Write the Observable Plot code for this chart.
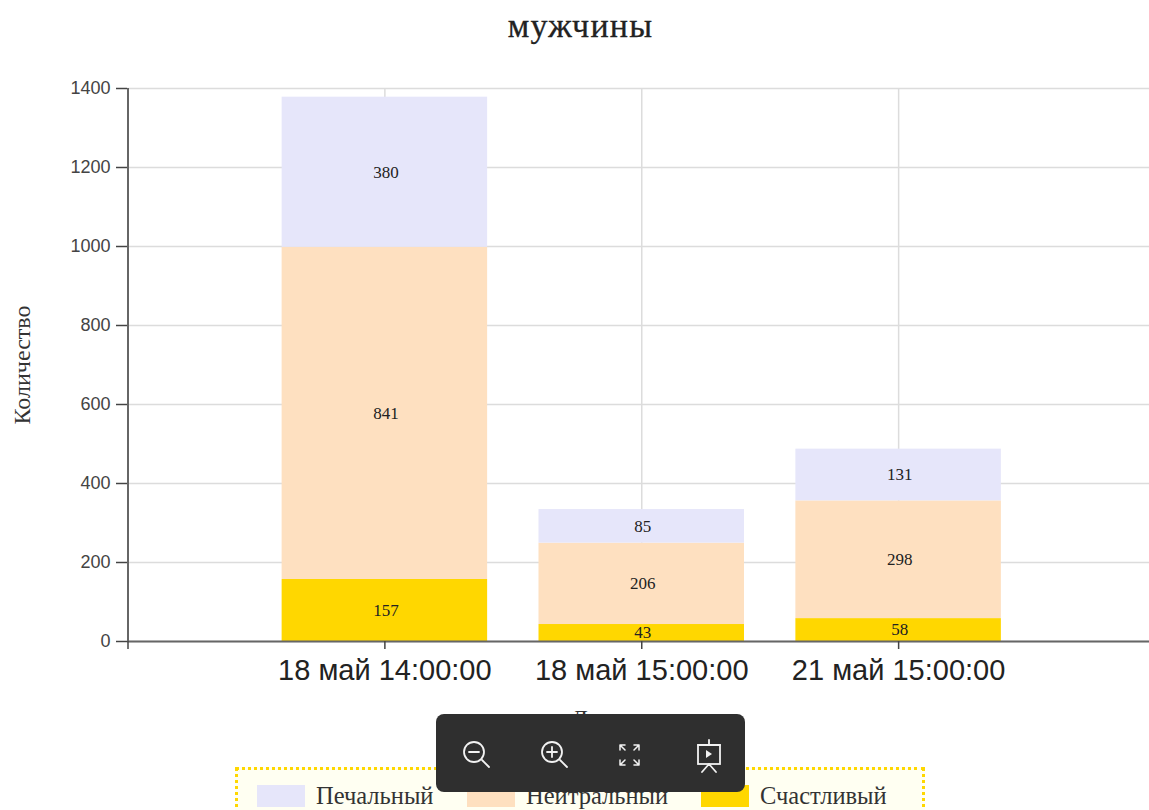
<!DOCTYPE html>
<html lang="ru">
<head>
<meta charset="utf-8">
<script src="https://cdn.jsdelivr.net/npm/d3@7"></script>
<script src="https://cdn.jsdelivr.net/npm/@observablehq/plot@0.6"></script>
<style>
html,body{margin:0;padding:0;background:#fff;}
#page{position:relative;width:1149px;height:810px;overflow:hidden;background:#fff;}
#title{position:absolute;left:0;width:1161px;top:7px;text-align:center;font:34px "Liberation Serif",serif;letter-spacing:1.2px;color:#222;-webkit-text-stroke:0.3px #222;}
#chart{position:absolute;left:0;top:58px;}
#chart svg{display:block;}
#legend{position:absolute;left:235px;top:767px;width:684px;height:60px;border:3px dotted #ffd700;background:#fffff2;font:24.5px "Liberation Serif",serif;color:#333;}
#legend .sw{position:absolute;top:15px;width:48px;height:22px;}
#legend .lb{position:absolute;top:13px;line-height:26px;white-space:nowrap;}
#tools{position:absolute;left:436px;top:714px;width:309px;height:78px;border-radius:8px;background:#2f2f2f;}
#tools svg{position:absolute;left:0;top:0;}
</style>
</head>
<body>
<div id="page">
  <div id="title">мужчины</div>
  <div id="chart"></div>
  <div id="legend"></div>
  <div id="tools">
    <svg width="309" height="78" fill="none" stroke="#f2f2f2" stroke-width="1.8" stroke-linecap="round">
      <circle cx="38" cy="38" r="10"/><path d="M46 46l7 7M33 38h10"/>
      <circle cx="116" cy="38" r="10"/><path d="M124 46l7 7M111 38h10M116 33v10"/>
      <path stroke-width="1.5" d="M184 31h5M184 31v0M184 31l5 5M184 31v5M203 31h-5M203 31v5M203 31l-5 5M184 51h5M184 51v-5M184 51l5-5M203 51h-5M203 51v-5M203 51l-5-5"/>
      <rect x="262" y="31" width="22" height="19"/><path d="M273 26v5M273 50l-7 8M273 50l7 8M262 31h22"/>
      <path d="M270 36l6 4l-6 4z" fill="#f2f2f2" stroke="none"/>
    </svg>
  </div>
</div>
<script>
const titleText = "мужчины";
const xLabels = ["18 май 14:00:00", "18 май 15:00:00", "21 май 15:00:00"];
const seriesNames = ["Счастливый", "Нейтральный", "Печальный"];
const seriesColors = ["#ffd700", "#fee0c0", "#e6e6fa"];
const happy = [157, 43, 58];
const neutral = [841, 206, 298];
const sad = [380, 85, 131];
const yTicks = [0, 200, 400, 600, 800, 1000, 1200, 1400];
const legendOrder = ["Печальный", "Нейтральный", "Счастливый"];
const legendSwatchX = [19, 229, 463];
const legendLabelX = [78, 288, 522];

const rows = [];
[happy, neutral, sad].forEach((vals, s) => vals.forEach((value, i) => rows.push({
  i, value, series: seriesNames[s], x1: i - 0.4, x2: i + 0.4
})));

const serif = '"Liberation Serif", serif';
const sans = '"Liberation Sans", sans-serif';
const stackOpts = {x: "i", y: "value", z: "series", order: seriesNames};

const chart = Plot.plot({
  width: 1149,
  height: 672,
  marginTop: 30,
  marginBottom: 89,
  marginLeft: 127,
  marginRight: 0,
  style: {background: "transparent", overflow: "hidden"},
  x: {type: "linear", domain: [-1, 3], range: [127.5, 1155]},
  y: {domain: [0, 1400]},
  color: {domain: seriesNames, range: seriesColors},
  marks: [
    Plot.gridY(yTicks, {stroke: "#dcdcdc", strokeOpacity: 1, strokeWidth: 1.5}),
    Plot.gridX([0, 1, 2], {stroke: "#dcdcdc", strokeOpacity: 1, strokeWidth: 1.5}),
    Plot.rectY(rows, Plot.stackY({...stackOpts, x1: "x1", x2: "x2", fill: "series", inset: 0})),
    Plot.text(rows, Plot.stackY({...stackOpts, text: "value", dx: 1, fontFamily: serif, fontSize: 17, fill: "#222"})),
    Plot.ruleY([0], {stroke: "#666", strokeWidth: 2}),
    Plot.ruleX([-1], {stroke: "#666", strokeWidth: 2}),
    Plot.axisY({
      ticks: yTicks, anchor: "left", tickSize: 11, tickPadding: 6, label: null,
      tickFormat: d => String(d),
      fontSize: 18, fontFamily: sans, stroke: "#444", strokeWidth: 1.5, fill: "#444"
    }),
    Plot.axisX({
      ticks: [-1, 0, 1, 2], anchor: "bottom", tickSize: 8, tickPadding: 10, label: null,
      tickFormat: d => xLabels[d] ?? "",
      fontSize: 29, fontFamily: sans, stroke: "#444", strokeWidth: 1.5, fill: "#222"
    }),
    Plot.text(["Количество"], {frameAnchor: "left", textAnchor: "middle", rotate: -90, dx: -105, fontSize: 24, fontFamily: serif, fill: "#333"}),
    Plot.text(["Дата"], {frameAnchor: "bottom", dx: -43, dy: 84, fontSize: 24, fontFamily: serif, fill: "#333"})
  ]
});
document.getElementById("chart").appendChild(chart);
document.getElementById("title").textContent = titleText;

const legend = document.getElementById("legend");
legendOrder.forEach((name, k) => {
  const sw = document.createElement("div");
  sw.className = "sw";
  sw.style.left = legendSwatchX[k] + "px";
  sw.style.background = seriesColors[seriesNames.indexOf(name)];
  const lb = document.createElement("div");
  lb.className = "lb";
  lb.style.left = legendLabelX[k] + "px";
  lb.textContent = name;
  legend.append(sw, lb);
});
</script>
</body>
</html>
